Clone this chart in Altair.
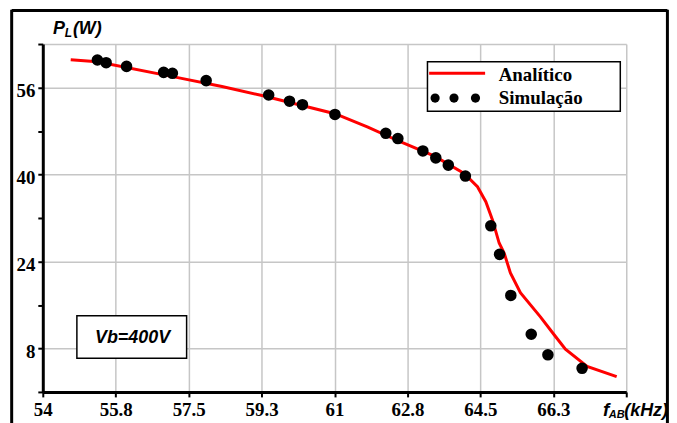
import altair as alt
import pandas as pd

# Analytic curve (kHz, W)
line_f = [54.67, 55.31, 57.27, 58.30, 59.26, 61.01, 61.80, 62.59, 63.40, 64.11,
          64.43, 64.63, 64.79, 64.95, 65.07, 65.22, 65.46, 65.94, 66.26, 66.54,
          67.06, 67.77]
line_p = [61.12, 60.75, 57.77, 56.18, 54.53, 51.18, 48.73, 45.98, 43.37, 40.20,
          37.75, 35.00, 31.65, 27.39, 25.56, 21.90, 18.24, 13.82, 10.61, 7.87,
          4.70, 2.80]

# Simulation points
sim_f = [55.31, 55.52, 56.01, 56.90, 57.11, 57.92, 59.42, 59.92, 60.23, 61.01,
         62.23, 62.52, 63.12, 63.43, 63.73, 64.14, 64.75, 64.96, 65.23, 65.72,
         66.12, 66.94]
sim_p = [61.06, 60.57, 59.89, 58.79, 58.61, 57.27, 54.62, 53.49, 52.84, 51.05,
         47.58, 46.61, 44.34, 43.06, 41.72, 39.71, 30.56, 25.31, 17.75, 10.61,
         6.83, 4.34]

x_ticks = [54, 55.75, 57.5, 59.25, 61, 62.75, 64.5, 66.25, 68]
y_ticks = [0, 8, 16, 24, 32, 40, 48, 56, 64]

legend_labels = ["Analítico", "Simulação"]
box_label = "Vb=400V"

W, H = 587, 350
GRID = "#c6c6c6"
SERIF = "Liberation Serif"
SANS = "Liberation Sans"

line_df = pd.DataFrame({"f": line_f, "p": line_p})
sim_df = pd.DataFrame({"f": sim_f, "p": sim_p})

xscale = alt.Scale(domain=[54, 68], nice=False, zero=False)
yscale = alt.Scale(domain=[0, 64], nice=False, zero=False)

xaxis = alt.Axis(
    values=x_ticks,
    labelExpr="datum.value == 68 ? '' : toString(round(datum.value*10)/10)",
    title=None, grid=True, gridColor=GRID, gridWidth=1.5,
    domainColor="black", domainWidth=3, tickColor="black", tickWidth=2, tickSize=5,
    labelFont=SERIF, labelFontSize=19, labelFontWeight="bold", labelColor="black",
    labelPadding=4, labelFlush=False, labelOverlap=False,
)
yaxis = alt.Axis(
    values=y_ticks,
    labelExpr="datum.value % 16 == 8 ? toString(datum.value) : ''",
    title=None, grid=True, gridColor=GRID, gridWidth=1.5,
    gridOpacity={"condition": {"test": "datum.value % 16 == 8 || datum.value == 64", "value": 1}, "value": 0},
    domainColor="black", domainWidth=3, tickColor="black", tickWidth=2, tickSize=5,
    labelFont=SERIF, labelFontSize=19, labelFontWeight="bold", labelColor="black",
    labelPadding=3, labelOffset=3, labelFlush=False, labelOverlap=False,
)

line = alt.Chart(line_df).mark_line(color="#ff0000", strokeWidth=3).encode(
    x=alt.X("f:Q", scale=xscale, axis=xaxis),
    y=alt.Y("p:Q", scale=yscale, axis=yaxis),
    order="f:Q",
)
pts = alt.Chart(sim_df).mark_circle(color="black", opacity=1, size=135).encode(
    x=alt.X("f:Q", scale=xscale),
    y=alt.Y("p:Q", scale=yscale),
)

one = alt.Data(values=[{"a": 1}])

def rule(x, y, x2=None, y2=None, color="black", w=3):
    enc = {"x": alt.value(x), "y": alt.value(y)}
    if x2 is not None:
        enc["x2"] = alt.value(x2)
    if y2 is not None:
        enc["y2"] = alt.value(y2)
    return alt.Chart(one).mark_rule(color=color, strokeWidth=w).encode(**enc)

def rect(x, y, x2, y2):
    return alt.Chart(one).mark_rect(fill="white", stroke="black", strokeWidth=1.5).encode(
        x=alt.value(x), y=alt.value(y), x2=alt.value(x2), y2=alt.value(y2))

def text(t, x, y, font, size, italic=False, align="left"):
    kw = dict(text=t, align=align, baseline="alphabetic", font=font, fontSize=size,
              fontWeight="bold", color="black")
    if italic:
        kw["fontStyle"] = "italic"
    return alt.Chart(one).mark_text(**kw).encode(x=alt.value(x), y=alt.value(y))

def dot(x, y):
    return alt.Chart(one).mark_circle(color="black", opacity=1, size=85).encode(
        x=alt.value(x), y=alt.value(y))

frame = [
    rule(-31.3, -33.8, x2=628.4),
    rule(-31.3, -34.5, y2=420),
    rule(628.4, -34.5, y2=420),
]

legend = [
    rect(387, 17.7, 581, 67.7),
    rule(388.7, 29.4, x2=445, color="#ff0000", w=3),
    dot(394.7, 54.4), dot(413.7, 54.4), dot(435.3, 54.4),
    text(legend_labels[0], 458.7, 36.7, SERIF, 19),
    text(legend_labels[1], 458.7, 60, SERIF, 19),
]

vb = [
    rect(34.3, 273.4, 144.7, 316),
    text(box_label, 90.3, 301, SANS, 18, italic=True, align="center"),
]

titles = [
    text("P", 10.3, -10, SANS, 18, italic=True),
    text("L", 22, -7, SANS, 12, italic=True),
    text("(W)", 30.3, -10, SANS, 18, italic=True),
    text("f", 563.5, 373.8, SANS, 19, italic=True),
    text("AB", 569.5, 376.5, SANS, 11, italic=True),
    text("(kHz)", 585, 373.8, SANS, 18, italic=True),
]

chart = alt.layer(line, pts, *legend, *vb, *titles, *frame).properties(
    width=W, height=H,
    autosize=alt.AutoSizeParams(type="none"),
    padding={"left": 35, "top": 35, "right": 43, "bottom": 30},
    background="white",
).configure_view(stroke=None)

chart.save("out.html", embed_options={"renderer": "svg", "actions": False})
